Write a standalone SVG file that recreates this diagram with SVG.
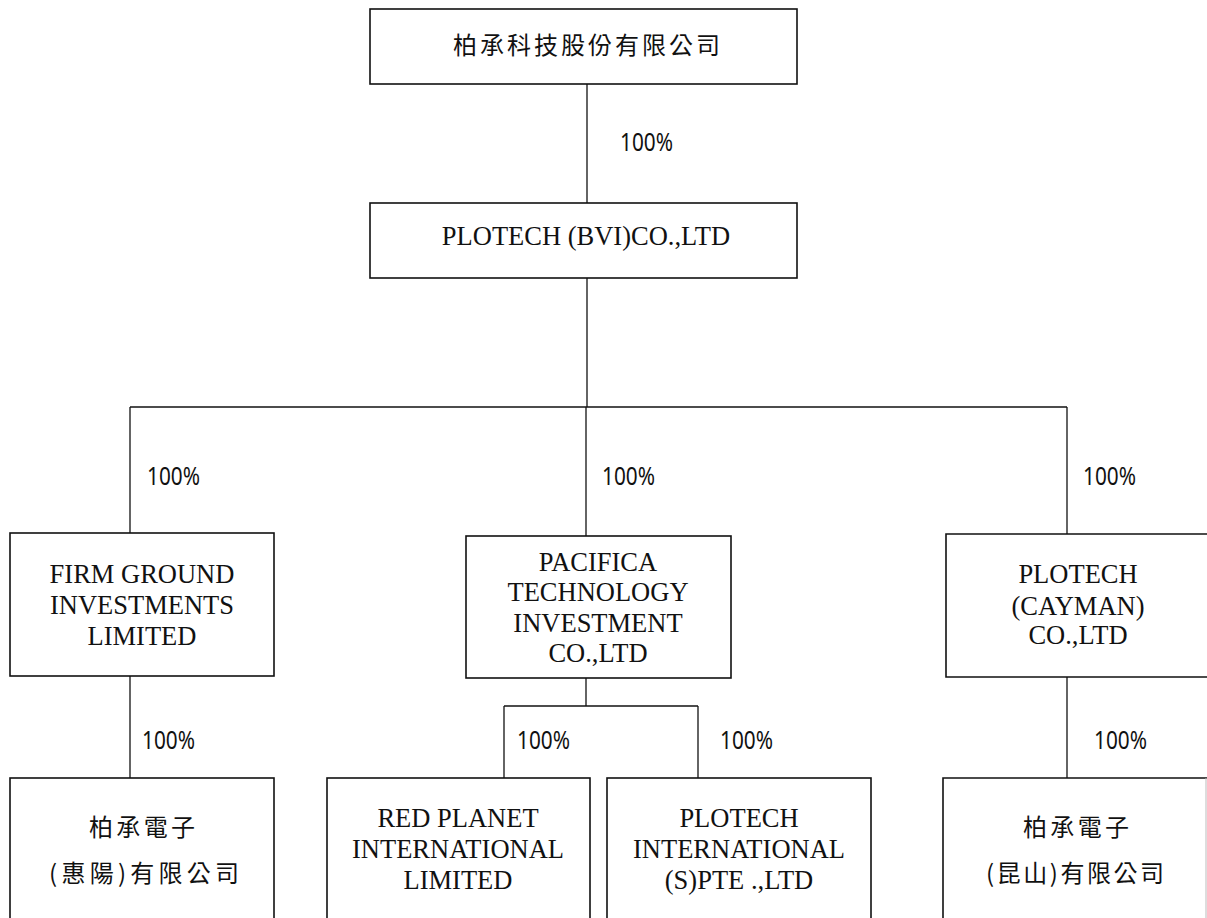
<svg xmlns="http://www.w3.org/2000/svg" width="1207" height="918" viewBox="0 0 1207 918">
<style>
.box{fill:#fff;stroke:#111;stroke-width:1.6}
.edge{fill:none;stroke:#111;stroke-width:1.6}
.con{fill:none;stroke:#111;stroke-width:1.3}
.en{font-family:"Liberation Serif","Times New Roman",serif;font-size:26.5px;fill:#111;text-anchor:middle}
.zh{font-family:"Noto Sans CJK TC","Noto Sans CJK SC",sans-serif;font-size:24px;fill:#111}
.pct{font-family:"Noto Sans","Liberation Sans",sans-serif;font-size:26px;fill:#111}
</style>
<rect width="1207" height="918" fill="#fff"/>
<g id="connectors">
<path class="con" d="M587,84V203"/>
<path class="con" d="M587,278V407"/>
<path class="con" d="M130,407H1067"/>
<path class="con" d="M130,407V533"/>
<path class="con" d="M586,407V536"/>
<path class="con" d="M1067,407V534"/>
<path class="con" d="M130,676V778"/>
<path class="con" d="M586,678V706"/>
<path class="con" d="M504,706H698"/>
<path class="con" d="M504,706V778"/>
<path class="con" d="M698,706V778"/>
<path class="con" d="M1067,677V778"/>
<text class="pct" x="620" y="151" textLength="53" lengthAdjust="spacingAndGlyphs">100%</text>
<text class="pct" x="147" y="485" textLength="53" lengthAdjust="spacingAndGlyphs">100%</text>
<text class="pct" x="602" y="485" textLength="53" lengthAdjust="spacingAndGlyphs">100%</text>
<text class="pct" x="1083" y="485" textLength="53" lengthAdjust="spacingAndGlyphs">100%</text>
<text class="pct" x="142" y="749" textLength="53" lengthAdjust="spacingAndGlyphs">100%</text>
<text class="pct" x="517" y="749" textLength="53" lengthAdjust="spacingAndGlyphs">100%</text>
<text class="pct" x="720" y="749" textLength="53" lengthAdjust="spacingAndGlyphs">100%</text>
<text class="pct" x="1094" y="749" textLength="53" lengthAdjust="spacingAndGlyphs">100%</text>
</g>
<g id="node-parent">
<rect class="box" x="370" y="9" width="427" height="75"/>
<text class="zh" x="453" y="54" textLength="267" lengthAdjust="spacing">柏承科技股份有限公司</text>
</g>
<g id="node-bvi">
<rect class="box" x="370" y="203" width="427" height="75"/>
<text class="en" x="586" y="245">PLOTECH (BVI)CO.,LTD</text>
</g>
<g id="node-firm">
<rect class="box" x="10" y="533" width="264" height="143"/>
<text class="en" x="142" y="583">FIRM GROUND</text>
<text class="en" x="142" y="614">INVESTMENTS</text>
<text class="en" x="142" y="645">LIMITED</text>
</g>
<g id="node-pacifica">
<rect class="box" x="466" y="536" width="265" height="142"/>
<text class="en" x="598" y="571">PACIFICA</text>
<text class="en" x="598" y="601">TECHNOLOGY</text>
<text class="en" x="598" y="632">INVESTMENT</text>
<text class="en" x="598" y="662">CO.,LTD</text>
</g>
<g id="node-cayman">
<rect x="946" y="534" width="261" height="143" fill="#fff"/>
<path class="edge" d="M1207,534H946V677H1207"/>
<text class="en" x="1078" y="583">PLOTECH</text>
<text class="en" x="1078" y="615">(CAYMAN)</text>
<text class="en" x="1078" y="644">CO.,LTD</text>
</g>
<g id="node-huiyang">
<rect class="box" x="10" y="778" width="264" height="160"/>
<text class="zh" x="89" y="836" textLength="106" lengthAdjust="spacing">柏承電子</text>
<text class="zh" x="49" y="882" textLength="190" lengthAdjust="spacing">(惠陽)有限公司</text>
</g>
<g id="node-redplanet">
<rect class="box" x="327" y="778" width="263" height="160"/>
<text class="en" x="458" y="827">RED PLANET</text>
<text class="en" x="458" y="858">INTERNATIONAL</text>
<text class="en" x="458" y="889">LIMITED</text>
</g>
<g id="node-plotech-intl">
<rect class="box" x="607" y="778" width="264" height="160"/>
<text class="en" x="739" y="827">PLOTECH</text>
<text class="en" x="739" y="858">INTERNATIONAL</text>
<text class="en" x="739" y="889">(S)PTE .,LTD</text>
</g>
<g id="node-kunshan">
<rect x="943" y="778" width="264" height="160" fill="#fff"/>
<path class="edge" d="M1207,778H943V938"/>
<path d="M1206,778V918" stroke="#bbb" stroke-width="1"/>
<text class="zh" x="1023" y="836" textLength="106" lengthAdjust="spacing">柏承電子</text>
<text class="zh" x="986" y="882" textLength="178" lengthAdjust="spacing">(昆山)有限公司</text>
</g>
</svg>
